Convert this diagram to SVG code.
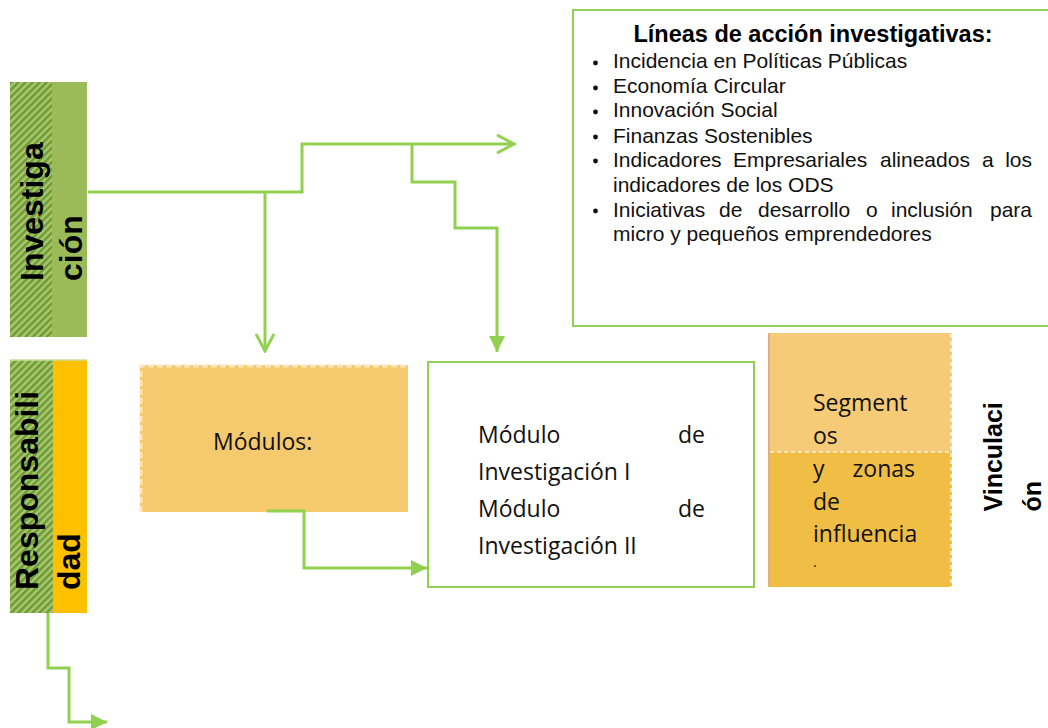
<svg xmlns="http://www.w3.org/2000/svg" width="1048" height="728" viewBox="0 0 1048 728">
<style>
.bar-t{font-family:"Liberation Sans",Arial,sans-serif;font-weight:bold;font-size:32px;fill:#000}
.vin-t{font-family:"Liberation Sans",Arial,sans-serif;font-weight:bold;font-size:25px;fill:#000}
.seg{font-family:"Open Sans","Noto Sans",sans-serif;font-size:23px;fill:#111}
.lin{font-family:"Liberation Sans",Arial,sans-serif;font-size:21px;fill:#111}
.ttl{font-family:"Liberation Sans",Arial,sans-serif;font-size:23.5px;font-weight:bold;fill:#000}
.conn{fill:none;stroke:#92D050;stroke-width:3}
.gbox{fill:#fff;stroke:#92D050;stroke-width:2}
.dash{fill:none;stroke:#FBE6BC;stroke-width:3;stroke-dasharray:6 3}
</style>
<defs>
<pattern id="hatch" patternUnits="userSpaceOnUse" width="5" height="5" patternTransform="rotate(45)">
<rect width="5" height="5" fill="#A9C76E"/>
<rect width="2.5" height="5" fill="#6E9A36"/>
</pattern>
<marker id="open" viewBox="0 0 20 20" refX="18" refY="10" markerWidth="20" markerHeight="20" markerUnits="userSpaceOnUse" orient="auto">
<path d="M1,1 L18,10 L1,19" fill="none" stroke="#92D050" stroke-width="3"/>
</marker>
<marker id="tri" viewBox="0 0 16 16" refX="16" refY="8" markerWidth="16" markerHeight="16" markerUnits="userSpaceOnUse" orient="auto">
<path d="M0,0 L16,8 L0,16 z" fill="#92D050"/>
</marker>
</defs>
<rect width="1048" height="728" fill="#fff"/>

<g id="investigacion">
<rect x="10" y="82" width="77" height="255" fill="#9BBB59"/>
<rect x="10" y="82" width="42" height="255" fill="url(#hatch)"/>
<text class="bar-t" transform="translate(43,281) rotate(-90)">Investiga</text>
<text class="bar-t" transform="translate(82,281) rotate(-90)">ción</text>
</g>

<g id="responsabilidad">
<rect x="10" y="360" width="77" height="253" fill="#FFC000"/>
<rect x="10" y="360" width="43" height="253" fill="url(#hatch)"/>
<line x1="10" y1="360" x2="87" y2="360" stroke="#C5DE9C" stroke-width="1.5"/>
<text class="bar-t" transform="translate(38,590) rotate(-90)">Responsabili</text>
<text class="bar-t" transform="translate(80,590) rotate(-90)">dad</text>
</g>

<g id="lineas">
<rect class="gbox" x="573" y="10" width="500" height="316"/>
<text class="ttl" x="813" y="42" text-anchor="middle">Líneas de acción investigativas:</text>
<g fill="#111">
<circle cx="595.5" cy="63" r="2.4"/>
<circle cx="595.5" cy="88" r="2.4"/>
<circle cx="595.5" cy="112" r="2.4"/>
<circle cx="595.5" cy="137" r="2.4"/>
<circle cx="595.5" cy="161" r="2.4"/>
<circle cx="595.5" cy="211" r="2.4"/>
</g>
<text class="lin" x="613" y="68">Incidencia en Políticas Públicas</text>
<text class="lin" x="613" y="93">Economía Circular</text>
<text class="lin" x="613" y="117">Innovación Social</text>
<text class="lin" x="613" y="142.5">Finanzas Sostenibles</text>
<text class="lin" y="166.5"><tspan x="613">Indicadores</tspan><tspan x="733">Empresariales</tspan><tspan x="880">alineados</tspan><tspan x="982">a</tspan><tspan x="1032" text-anchor="end">los</tspan></text>
<text class="lin" x="613" y="191.5">indicadores de los ODS</text>
<text class="lin" y="216.5"><tspan x="613">Iniciativas</tspan><tspan x="719">de</tspan><tspan x="758">desarrollo</tspan><tspan x="866">o</tspan><tspan x="891">inclusión</tspan><tspan x="1032" text-anchor="end">para</tspan></text>
<text class="lin" x="613" y="240.5">micro y pequeños emprendedores</text>
</g>

<g id="modulos">
<rect x="140" y="365" width="268" height="147" fill="#F5C96E"/>
<path class="dash" d="M141,512 V366 H408"/>
<text class="seg" x="213" y="450">Módulos:</text>
</g>

<g id="modulo-investigacion">
<rect class="gbox" x="428" y="362" width="326" height="225"/>
<text class="seg" x="478" y="443">Módulo</text>
<text class="seg" x="705" y="443" text-anchor="end">de</text>
<text class="seg" x="478" y="480">Investigación I</text>
<text class="seg" x="478" y="517">Módulo</text>
<text class="seg" x="705" y="517" text-anchor="end">de</text>
<text class="seg" x="478" y="553.5">Investigación II</text>
</g>

<g id="segmentos">
<rect x="768" y="333" width="184" height="119" fill="#F5CB77"/>
<rect x="768" y="452" width="184" height="135" fill="#F0BD45"/>
<line x1="769" y1="333" x2="769" y2="587" stroke="#DDB08A" stroke-width="2"/>
<line x1="951" y1="334" x2="951" y2="587" stroke="#FFF4DD" stroke-width="1.5" stroke-dasharray="4 3"/>
<line x1="770" y1="452" x2="951" y2="452" stroke="#FFF4DD" stroke-width="1.5" stroke-dasharray="4 3"/>
<text class="seg" x="813" y="411">Segment</text>
<text class="seg" x="813" y="443.5">os</text>
<text class="seg" x="813" y="477">y</text>
<text class="seg" x="915" y="477" text-anchor="end">zonas</text>
<text class="seg" x="813" y="510">de</text>
<text class="seg" x="813" y="542">influencia</text>
<text class="seg" x="813" y="567" style="font-size:14px">.</text>
</g>

<g id="vinculacion">
<text class="vin-t" transform="translate(1001.5,511.5) rotate(-90)">Vinculaci</text>
<text class="vin-t" transform="translate(1041,511.5) rotate(-90)">ón</text>
</g>

<g id="connectors">
<path class="conn" d="M88,192 H302 V144 H514" marker-end="url(#open)"/>
<path class="conn" d="M265,192 V351" marker-end="url(#open)"/>
<path class="conn" d="M412,144 V182 H455 V228 H497 V352" marker-end="url(#tri)"/>
<path class="conn" d="M267,511 H304 V568 H427" marker-end="url(#tri)"/>
<path class="conn" d="M48,613 V668 H69 V722 H107" marker-end="url(#tri)"/>
</g>
</svg>
